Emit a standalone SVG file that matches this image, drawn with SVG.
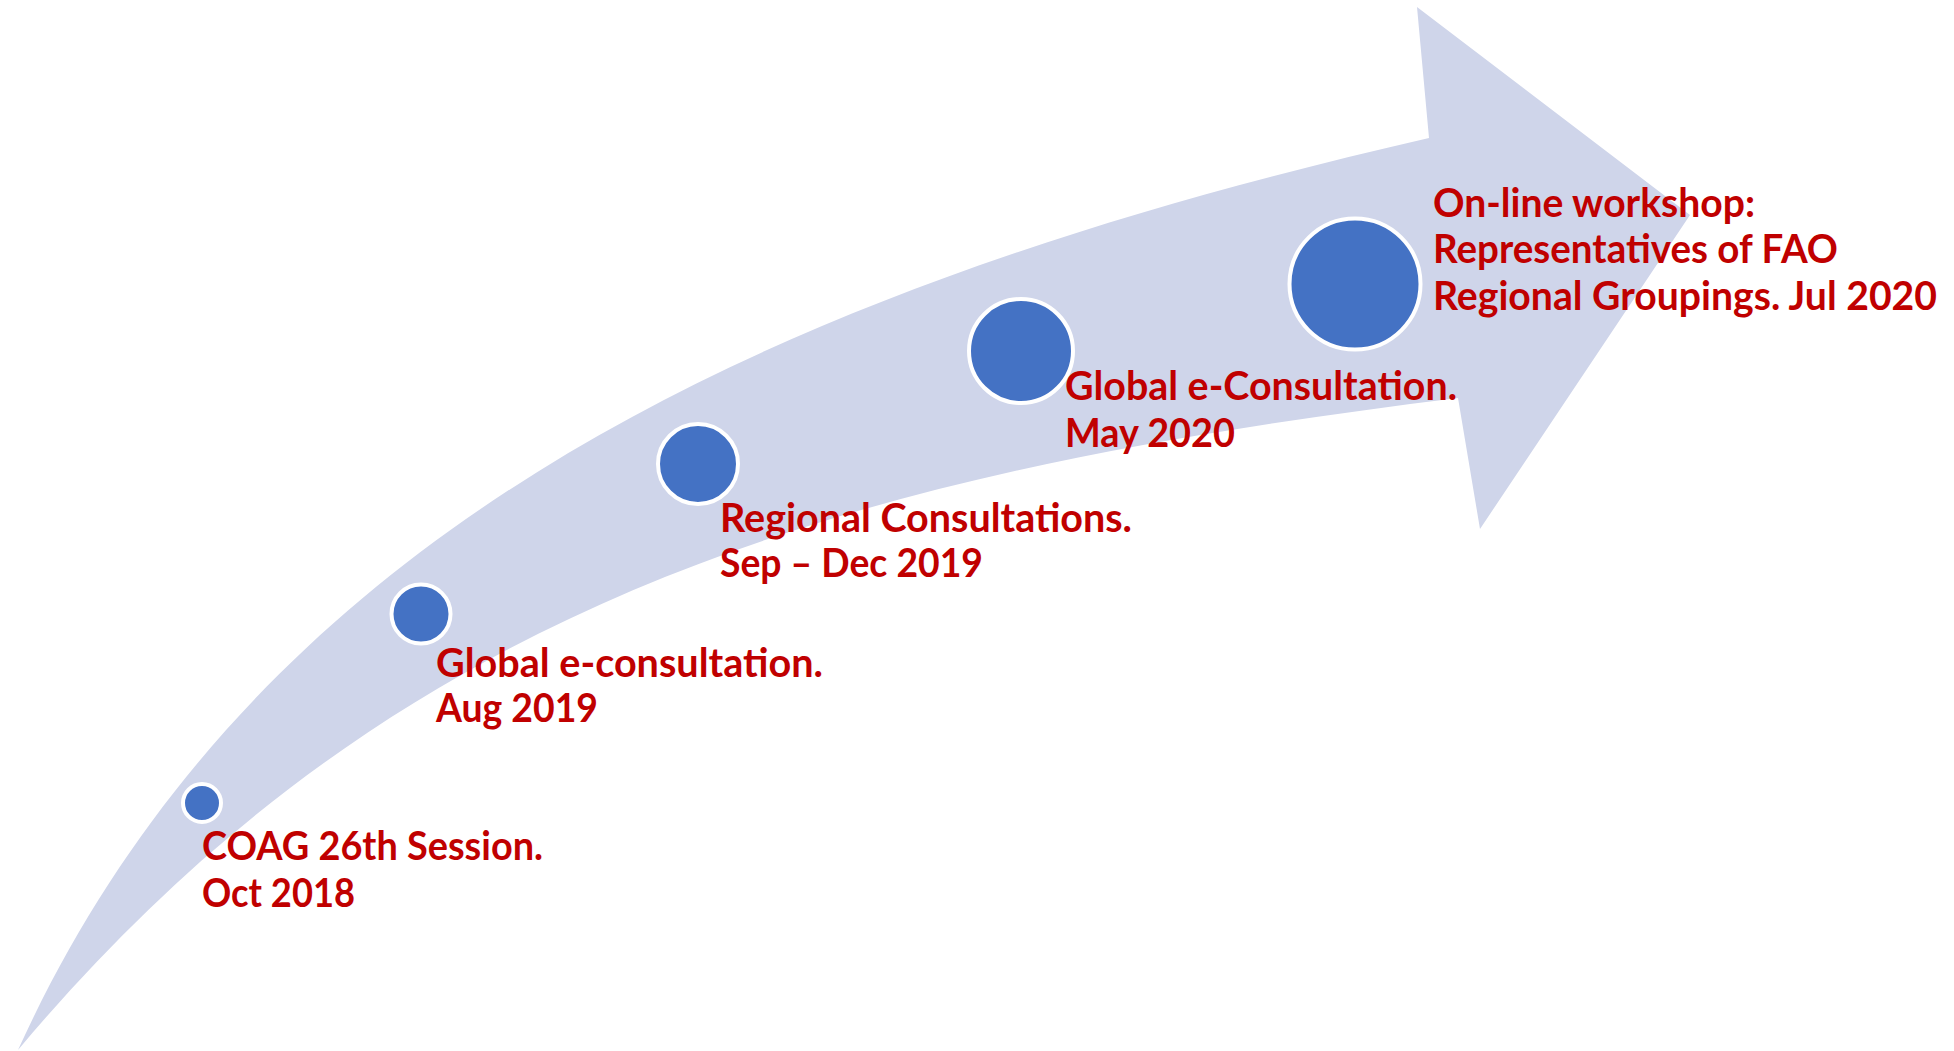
<svg xmlns="http://www.w3.org/2000/svg" width="1954" height="1051" viewBox="0 0 1954 1051">
<style>
.lbl{font-family:Lato,"Open Sans","Liberation Sans",sans-serif;font-weight:bold;font-size:40px;fill:#C00000}
.dot{fill:#4472C4;stroke:#FFFFFF;stroke-width:4}
</style>
<rect width="1954" height="1051" fill="#FFFFFF"/>
<g id="connectors">
<path id="arrow" d="M18,1050 C250,540 747,294 1429,138 L1417,7 L1690,215 L1480,529 L1458,398 C863,472 403,590 18,1050 Z" fill="#CFD5EA"/>
</g>
<g id="node1">
<circle class="dot" cx="202" cy="803" r="19"/>
<text class="lbl" x="202" y="860" textLength="341" lengthAdjust="spacingAndGlyphs">COAG 26th Session.</text>
<text class="lbl" x="202" y="907" textLength="153" lengthAdjust="spacingAndGlyphs">Oct 2018</text>
</g>
<g id="node2">
<circle class="dot" cx="421" cy="614" r="29.5"/>
<text class="lbl" x="436" y="677" textLength="387" lengthAdjust="spacingAndGlyphs">Global e-consultation.</text>
<text class="lbl" x="436" y="722" textLength="162" lengthAdjust="spacingAndGlyphs">Aug 2019</text>
</g>
<g id="node3">
<circle class="dot" cx="698" cy="464" r="40"/>
<text class="lbl" x="720" y="532" textLength="412" lengthAdjust="spacingAndGlyphs">Regional Consultations.</text>
<text class="lbl" x="720" y="577" textLength="263" lengthAdjust="spacingAndGlyphs">Sep – Dec 2019</text>
</g>
<g id="node4">
<circle class="dot" cx="1021" cy="351" r="52"/>
<text class="lbl" x="1065" y="400" textLength="392" lengthAdjust="spacingAndGlyphs">Global e-Consultation.</text>
<text class="lbl" x="1065" y="447" textLength="170" lengthAdjust="spacingAndGlyphs">May 2020</text>
</g>
<g id="node5">
<circle class="dot" cx="1355" cy="284" r="65.5"/>
<text class="lbl" x="1433" y="217" textLength="322" lengthAdjust="spacingAndGlyphs">On-line workshop:</text>
<text class="lbl" x="1433" y="263" textLength="405" lengthAdjust="spacingAndGlyphs">Representatives of FAO</text>
<text class="lbl" x="1433" y="310" textLength="504" lengthAdjust="spacingAndGlyphs">Regional Groupings. Jul 2020</text>
</g>
</svg>
